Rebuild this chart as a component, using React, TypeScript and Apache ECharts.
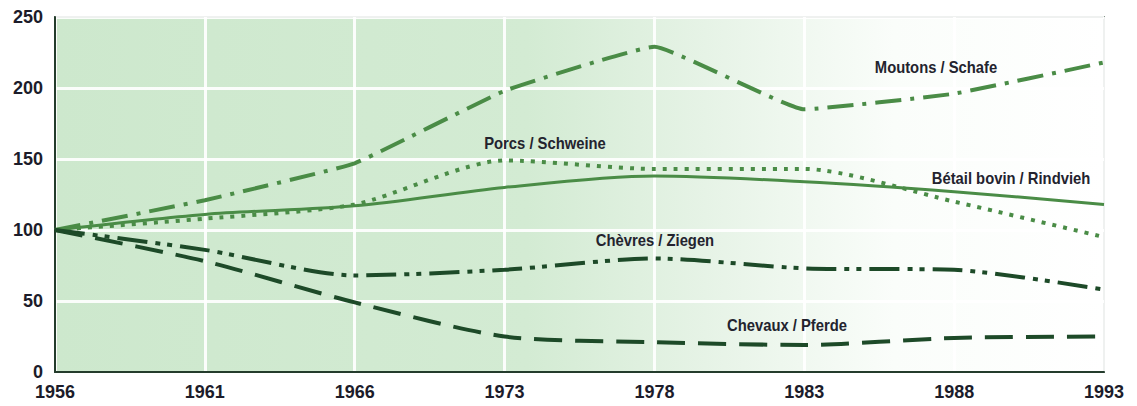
import React, { useEffect, useRef } from "react";
import * as echarts from "echarts";

const years = ["1956", "1961", "1966", "1973", "1978", "1983", "1988", "1993"];
const moutons = [100, 121, 147, 198, 229, 185, 196, 218];
const porcs = [100, 108, 118, 149, 143, 143, 120, 95];
const bovins = [100, 111, 117, 130, 138, 134, 127, 118];
const chevres = [100, 86, 68, 72, 80, 73, 72, 58];
const chevaux = [100, 78, 49, 25, 21, 19, 24, 25];

const MID = "#4a8c46";
const DARK = "#1d4a28";

export default function App() {
  const ref = useRef<HTMLDivElement>(null);
  useEffect(() => {
    const chart = echarts.init(ref.current!, null, { renderer: "svg" });
    const lbl = (text: string, x: number, y: number) => ({
      type: "text",
      x,
      y,
      scaleX: 0.87,
      z: 100,
      style: {
        text,
        fill: "#23232e",
        font: 'bold 17px "Liberation Sans", Arial, sans-serif',
        align: "center",
        verticalAlign: "middle",
      },
    });
    chart.setOption({
      animation: false,
      backgroundColor: "#ffffff",
      grid: {
        left: 55,
        top: 17,
        right: 33,
        bottom: 34,
        show: true,
        borderColor: "#2b4733",
        borderWidth: 1.5,
        backgroundColor: new echarts.graphic.LinearGradient(0, 0, 1, 0, [
          { offset: 0, color: "#cde8cd" },
          { offset: 0.45, color: "#d3ebd3" },
          { offset: 0.62, color: "#e6f3e6" },
          { offset: 0.8, color: "#fafdfa" },
          { offset: 1, color: "#ffffff" },
        ]),
      },
      xAxis: {
        type: "category",
        data: years,
        boundaryGap: false,
        axisLine: { lineStyle: { color: "#243c2c", width: 2 } },
        axisTick: { show: false },
        axisLabel: {
          color: "#1c1c2a",
          fontSize: 18,
          fontWeight: "bold",
          fontFamily: '"Liberation Sans", Arial, sans-serif',
          margin: 11,
        },
        splitLine: { show: true, lineStyle: { color: "#ffffff", width: 3, opacity: 0.9 } },
      },
      yAxis: {
        type: "value",
        min: 0,
        max: 250,
        interval: 50,
        axisLine: { show: true, lineStyle: { color: "#243c2c", width: 2 } },
        axisTick: { show: false },
        axisLabel: {
          color: "#1c1c2a",
          fontSize: 18,
          fontWeight: "bold",
          fontFamily: '"Liberation Sans", Arial, sans-serif',
          margin: 12,
        },
        splitLine: { show: true, lineStyle: { color: "#ffffff", width: 3, opacity: 0.9 } },
      },
      series: [
        {
          name: "Moutons / Schafe",
          type: "line",
          data: moutons,
          smooth: 0.1,
          showSymbol: false,
          lineStyle: { color: MID, width: 4, type: [26, 9, 4, 9] },
        },
        {
          name: "Porcs / Schweine",
          type: "line",
          data: porcs,
          smooth: 0.25,
          showSymbol: false,
          lineStyle: { color: MID, width: 4, type: [4, 7] },
        },
        {
          name: "Bétail bovin / Rindvieh",
          type: "line",
          data: bovins,
          smooth: 0.3,
          showSymbol: false,
          lineStyle: { color: MID, width: 3, type: "solid" },
        },
        {
          name: "Chèvres / Ziegen",
          type: "line",
          data: chevres,
          smooth: 0.25,
          showSymbol: false,
          lineStyle: { color: DARK, width: 4, type: [30, 8, 5, 7, 5, 8] },
        },
        {
          name: "Chevaux / Pferde",
          type: "line",
          data: chevaux,
          smooth: 0.25,
          showSymbol: false,
          lineStyle: { color: DARK, width: 4, type: [28, 13] },
        },
      ],
      graphic: [
        lbl("Moutons / Schafe", 936, 67),
        lbl("Porcs / Schweine", 545, 143),
        lbl("Bétail bovin / Rindvieh", 1011, 178),
        lbl("Chèvres / Ziegen", 655, 240),
        lbl("Chevaux / Pferde", 787, 325),
      ],
    });
    return () => chart.dispose();
  }, []);
  return (
    <div
      ref={ref}
      style={{ position: "fixed", left: 0, top: 0, width: 1137, height: 406, background: "#fff" }}
    />
  );
}
